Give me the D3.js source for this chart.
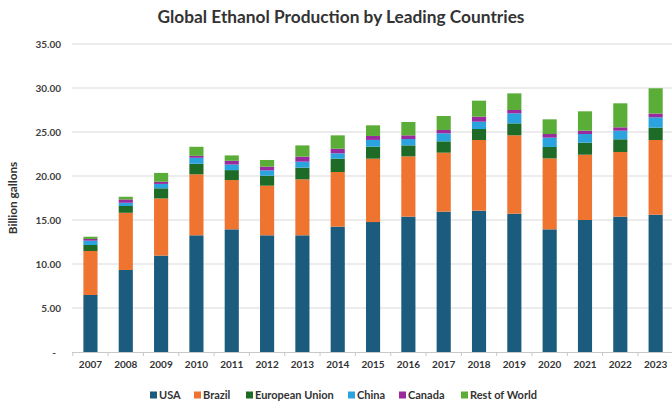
<!DOCTYPE html>
<html>
<head>
<meta charset="utf-8">
<script src="https://cdn.jsdelivr.net/npm/d3@7"></script>
<style>
  html, body { margin: 0; padding: 0; background: #fff; }
  svg { display: block; }
  text { font-family: Lato, "Open Sans", sans-serif; }
</style>
</head>
<body>
<script>
const years = ["2007","2008","2009","2010","2011","2012","2013","2014","2015","2016","2017","2018","2019","2020","2021","2022","2023"];
const seriesNames = ["USA","Brazil","European Union","China","Canada","Rest of World"];
const usa    = [6.48, 9.32, 10.95, 13.26, 13.94, 13.26, 13.26, 14.24, 14.77, 15.38, 15.95, 16.06, 15.72, 13.94, 15.00, 15.38, 15.60];
const brazil = [5.00, 6.50, 6.50, 6.93, 5.60, 5.64, 6.36, 6.21, 7.20, 6.85, 6.70, 8.03, 8.90, 8.06, 7.42, 7.35, 8.49];
const eu     = [0.68, 0.77, 1.15, 1.20, 1.13, 1.14, 1.33, 1.52, 1.36, 1.25, 1.29, 1.25, 1.36, 1.30, 1.37, 1.44, 1.41];
const china  = [0.49, 0.37, 0.50, 0.68, 0.63, 0.60, 0.68, 0.61, 0.77, 0.72, 0.91, 0.83, 1.14, 1.06, 0.98, 0.98, 1.17];
const canada = [0.19, 0.38, 0.25, 0.22, 0.43, 0.42, 0.57, 0.52, 0.45, 0.42, 0.38, 0.57, 0.38, 0.41, 0.38, 0.38, 0.43];
const rest   = [0.26, 0.30, 1.00, 1.03, 0.61, 0.76, 1.28, 1.52, 1.21, 1.52, 1.59, 1.82, 1.89, 1.67, 2.20, 2.73, 2.87];
const yTicks = [0, 5, 10, 15, 20, 25, 30, 35];
const colors = ["#1B5C7E", "#EE7430", "#1E6B28", "#2AA3DE", "#9A2B9E", "#5AAE38"];

const W = 672, H = 407;
const svg = d3.select("body").append("svg").attr("width", W).attr("height", H);
svg.append("rect").attr("width", W).attr("height", H).attr("fill", "#fff");

const x = d3.scaleBand().domain(years).range([72.8, 673.3]).paddingInner(0.6).paddingOuter(0.3);
const y = d3.scaleLinear().domain([0, 35]).range([352, 44]);

const allSeries = [usa, brazil, eu, china, canada, rest];
const table = years.map((yr, i) => {
  const o = { year: yr };
  seriesNames.forEach((s, k) => o[s] = allSeries[k][i]);
  return o;
});
const stacked = d3.stack().keys(seriesNames)(table);

// title
svg.append("text").attr("x", 341).attr("y", 23).attr("text-anchor", "middle")
  .attr("font-size", 17.3).attr("font-weight", 700).attr("fill", "#333")
  .text("Global Ethanol Production by Leading Countries");

// gridlines
svg.append("g").selectAll("line").data(yTicks.filter(d => d > 0)).join("line")
  .attr("x1", 72).attr("x2", W).attr("y1", d => y(d)).attr("y2", d => y(d))
  .attr("stroke", "#d9d9d9").attr("stroke-width", 1);

// y axis labels
const yAxis = d3.axisLeft(y).tickValues(yTicks).tickSize(0).tickPadding(0)
  .tickFormat(d => d === 0 ? "-" : d3.format(".2f")(d));
const gy = svg.append("g").attr("transform", "translate(61,0)").call(yAxis);
gy.select(".domain").remove();
gy.selectAll("text").attr("font-size", 10).attr("font-weight", 700).attr("fill", "#404040")
  .style("font-family", "Lato, 'Open Sans', sans-serif");
gy.selectAll(".tick").filter(d => d === 0).select("text").attr("dx", -5);

// y title
svg.append("text").attr("transform", "translate(17,198) rotate(-90)")
  .attr("text-anchor", "middle").attr("font-size", 11.8).attr("font-weight", 700).attr("fill", "#333")
  .text("Billion gallons");

// bars
svg.append("g").selectAll("g").data(stacked).join("g")
  .attr("fill", (d, i) => colors[i])
  .selectAll("rect").data(d => d).join("rect")
  .attr("x", d => x(d.data.year))
  .attr("width", x.bandwidth())
  .attr("y", d => y(d[1]))
  .attr("height", d => y(d[0]) - y(d[1]));

// x axis baseline and ticks
const step = x.step();
svg.append("line").attr("x1", 72).attr("x2", W).attr("y1", 352.5).attr("y2", 352.5)
  .attr("stroke", "#c8c8c8");
svg.append("g").selectAll("line").data(years).join("line")
  .attr("x1", d => x(d) + x.bandwidth() / 2 - step / 2)
  .attr("x2", d => x(d) + x.bandwidth() / 2 - step / 2)
  .attr("y1", 352.5).attr("y2", 356).attr("stroke", "#c8c8c8");

const xAxis = d3.axisBottom(x).tickSize(0).tickPadding(0);
const gx = svg.append("g").attr("transform", "translate(0,360)").call(xAxis);
gx.select(".domain").remove();
gx.selectAll("text").attr("font-size", 10).attr("font-weight", 700).attr("fill", "#333")
  .attr("dy", "0.75em").style("font-family", "Lato, 'Open Sans', sans-serif");

// legend
const legendX = [150, 194, 246, 348, 399, 461];
const lg = svg.append("g").selectAll("g").data(seriesNames).join("g")
  .attr("transform", (d, i) => `translate(${legendX[i]},395)`);
lg.append("rect").attr("x", 0).attr("y", -3.5).attr("width", 7).attr("height", 7)
  .attr("fill", (d, i) => colors[i]);
lg.append("text").attr("x", 9).attr("y", 4).attr("font-size", 11).attr("font-weight", 700)
  .attr("fill", "#333").text(d => d);
</script>
</body>
</html>
